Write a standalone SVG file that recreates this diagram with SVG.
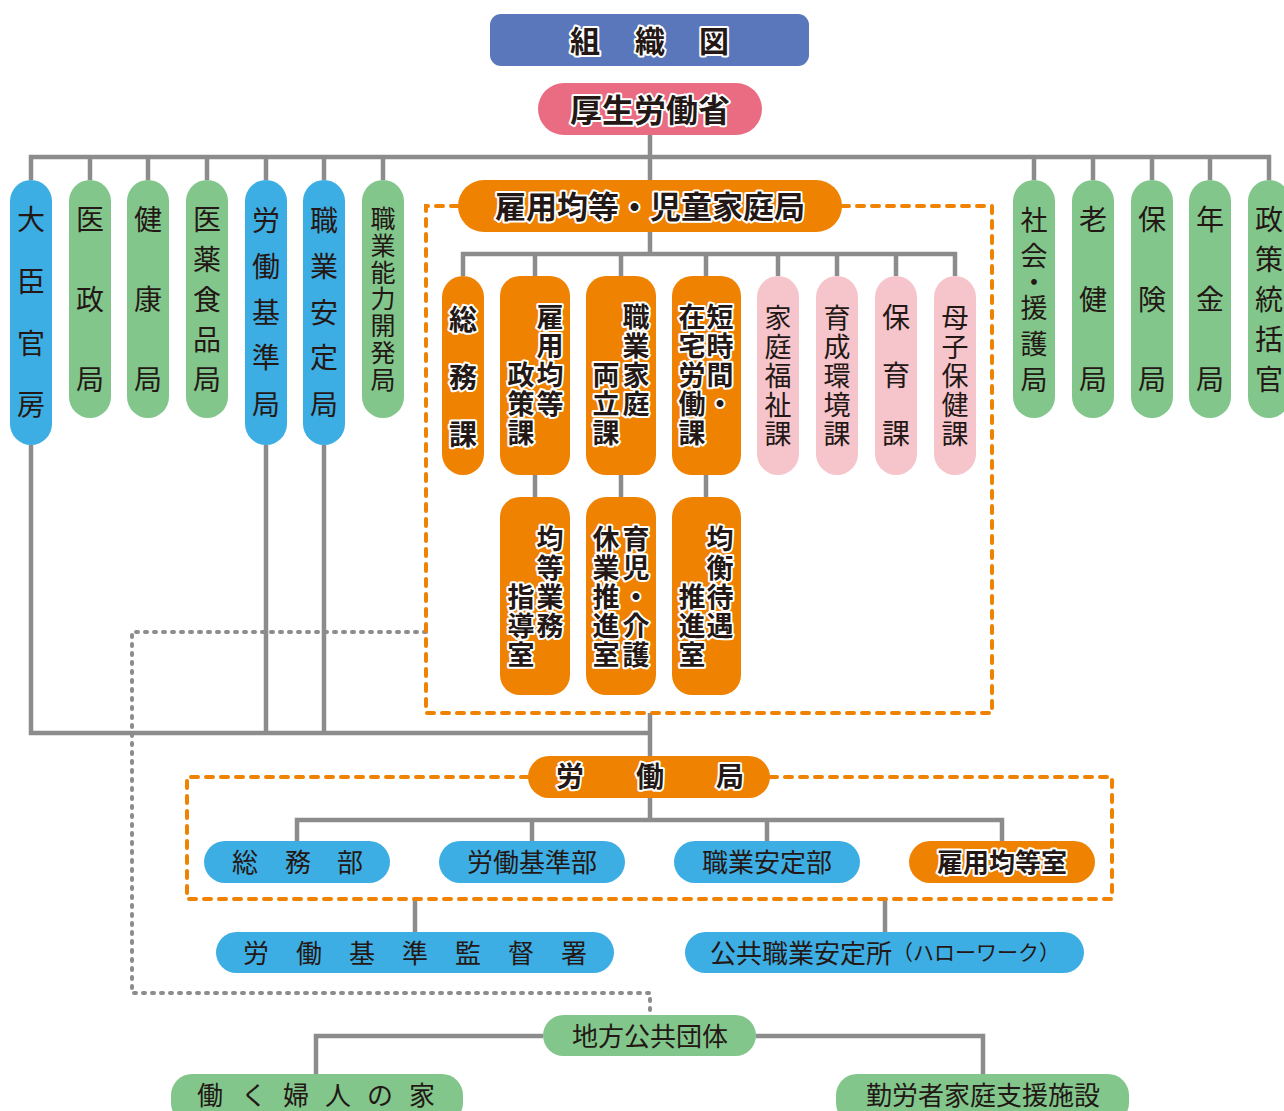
<svg xmlns="http://www.w3.org/2000/svg" width="1284" height="1111" viewBox="0 0 1284 1111">
<style>
.ln{stroke:#8c8c8c;stroke-width:4.5;fill:none}
.dsh{stroke:#ef8200;stroke-width:4;fill:none;stroke-dasharray:7 8;stroke-linecap:round}
.dot{stroke:#8c8c8c;stroke-width:4;fill:none;stroke-dasharray:2 7;stroke-linecap:round}
.bl{fill:#3daee3}
.gr{fill:#82c68c}
.or{fill:#ef8200}
.pk{fill:#f6c5cc}
text{font-family:"Noto Sans CJK JP","Noto Sans CJK SC",sans-serif;fill:#231815;text-anchor:middle;dominant-baseline:central;transform:translate(0px,-2px)}
.v{font-size:28px}
.c{font-size:27px}
.s{font-size:26px}
.n{font-size:25px}
.o{stroke:#fff;stroke-width:4;paint-order:stroke;stroke-linejoin:round;font-weight:bold}
</style>
<rect width="1284" height="1111" fill="#fff"/>

<g id="connectors">
<path class="ln" d="M650 135V180M31 180V157H1269V180M90 157V180M148 157V180M207 157V180M266 157V180M324 157V180M383 157V180M1034 157V180M1093 157V180M1152 157V180M1210 157V180"/>
<path class="ln" d="M650 232V254M463 276V254H955V276M535 254V276M621 254V276M706 254V276M778 254V276M837 254V276M896 254V276"/>
<path class="ln" d="M535 475V497M621 475V497M706 475V497"/>
<path class="ln" d="M31 445V733H650M266 445V733M324 445V733M650 713V757"/>
<path class="ln" d="M650 798V820M297 841V820H1002V841M532 820V841M767 820V841"/>
<path class="ln" d="M415 899V932M885 899V932"/>
<path class="ln" d="M543 1036H316V1074M756 1036H983V1074"/>
<path class="dot" d="M426 632H132V993H650V1015"/>
<path class="dsh" d="M458 206H426V713H992V206H842"/>
<path class="dsh" d="M528 777H187V899H1112V777H770"/>
</g>

<g id="title"><rect x="490" y="14" width="319" height="52" rx="11" fill="#5a77bb"/>
<text class="o" font-size="30"><tspan x="585" y="41">組</tspan><tspan x="650" y="41">織</tspan><tspan x="714" y="41">図</tspan></text></g>

<g id="mhlw"><rect x="538" y="83" width="224" height="52" rx="26" fill="#ea6c82"/>
<text class="o" x="650" y="110" font-size="32" font-weight="900">厚生労働省</text></g>

<g id="n-daijin"><rect class="bl" x="10" y="180" width="42" height="265" rx="21"/>
<text class="v"><tspan x="31" y="220">大</tspan><tspan x="31" y="282">臣</tspan><tspan x="31" y="344">官</tspan><tspan x="31" y="405">房</tspan></text></g>
<g id="n-isei"><rect class="gr" x="69" y="180" width="42" height="238" rx="21"/>
<text class="v"><tspan x="90" y="220">医</tspan><tspan x="90" y="300">政</tspan><tspan x="90" y="380">局</tspan></text></g>
<g id="n-kenko"><rect class="gr" x="127" y="180" width="42" height="238" rx="21"/>
<text class="v"><tspan x="148" y="220">健</tspan><tspan x="148" y="300">康</tspan><tspan x="148" y="380">局</tspan></text></g>
<g id="n-iyaku"><rect class="gr" x="186" y="180" width="42" height="238" rx="21"/>
<text class="v"><tspan x="207" y="220">医</tspan><tspan x="207" y="260">薬</tspan><tspan x="207" y="300">食</tspan><tspan x="207" y="340">品</tspan><tspan x="207" y="380">局</tspan></text></g>
<g id="n-rodokijun"><rect class="bl" x="245" y="180" width="42" height="265" rx="21"/>
<text class="v"><tspan x="266" y="221">労</tspan><tspan x="266" y="267">働</tspan><tspan x="266" y="313">基</tspan><tspan x="266" y="358">準</tspan><tspan x="266" y="405">局</tspan></text></g>
<g id="n-shokugyoantei"><rect class="bl" x="303" y="180" width="42" height="265" rx="21"/>
<text class="v"><tspan x="324" y="221">職</tspan><tspan x="324" y="267">業</tspan><tspan x="324" y="313">安</tspan><tspan x="324" y="358">定</tspan><tspan x="324" y="405">局</tspan></text></g>
<g id="n-noryoku"><rect class="gr" x="362" y="180" width="42" height="238" rx="21"/>
<text class="n"><tspan x="383" y="219">職</tspan><tspan x="383" y="246">業</tspan><tspan x="383" y="273">能</tspan><tspan x="383" y="299">力</tspan><tspan x="383" y="326">開</tspan><tspan x="383" y="353">発</tspan><tspan x="383" y="380">局</tspan></text></g>

<g id="n-shakai"><rect class="gr" x="1013" y="180" width="42" height="238" rx="21"/>
<text class="c"><tspan x="1034" y="220">社</tspan><tspan x="1034" y="256">会</tspan><tspan x="1034" y="282">・</tspan><tspan x="1034" y="308">援</tspan><tspan x="1034" y="344">護</tspan><tspan x="1034" y="380">局</tspan></text></g>
<g id="n-roken"><rect class="gr" x="1072" y="180" width="42" height="238" rx="21"/>
<text class="v"><tspan x="1093" y="220">老</tspan><tspan x="1093" y="300">健</tspan><tspan x="1093" y="380">局</tspan></text></g>
<g id="n-hoken"><rect class="gr" x="1131" y="180" width="42" height="238" rx="21"/>
<text class="v"><tspan x="1152" y="220">保</tspan><tspan x="1152" y="300">険</tspan><tspan x="1152" y="380">局</tspan></text></g>
<g id="n-nenkin"><rect class="gr" x="1189" y="180" width="42" height="238" rx="21"/>
<text class="v"><tspan x="1210" y="220">年</tspan><tspan x="1210" y="300">金</tspan><tspan x="1210" y="380">局</tspan></text></g>
<g id="n-seisaku"><rect class="gr" x="1248" y="180" width="42" height="238" rx="21"/>
<text class="v"><tspan x="1269" y="220">政</tspan><tspan x="1269" y="260">策</tspan><tspan x="1269" y="300">統</tspan><tspan x="1269" y="340">括</tspan><tspan x="1269" y="380">官</tspan></text></g>

<g id="n-koyokinto"><rect class="or" x="458" y="180" width="384" height="52" rx="26"/>
<text class="o" x="650" y="206" font-size="31" font-weight="500">雇用均等・児童家庭局</text></g>

<g id="n-somuka"><rect class="or" x="442" y="276" width="42" height="199" rx="21"/>
<text class="v o"><tspan x="463" y="320">総</tspan><tspan x="463" y="378">務</tspan><tspan x="463" y="435">課</tspan></text></g>
<g id="n-koyoseisaku"><rect class="or" x="500" y="276" width="70" height="199" rx="20"/>
<text class="c o"><tspan x="550" y="317">雇</tspan><tspan x="550" y="346">用</tspan><tspan x="550" y="375">均</tspan><tspan x="550" y="404">等</tspan><tspan x="521" y="375">政</tspan><tspan x="521" y="404">策</tspan><tspan x="521" y="433">課</tspan></text></g>
<g id="n-ryoritsu"><rect class="or" x="586" y="276" width="70" height="199" rx="20"/>
<text class="c o"><tspan x="636" y="317">職</tspan><tspan x="636" y="346">業</tspan><tspan x="636" y="375">家</tspan><tspan x="636" y="404">庭</tspan><tspan x="606" y="375">両</tspan><tspan x="606" y="404">立</tspan><tspan x="606" y="433">課</tspan></text></g>
<g id="n-tanjikan"><rect class="or" x="672" y="276" width="69" height="199" rx="20"/>
<text class="c o"><tspan x="720" y="317">短</tspan><tspan x="720" y="346">時</tspan><tspan x="720" y="375">間</tspan><tspan x="720" y="404">・</tspan><tspan x="692" y="317">在</tspan><tspan x="692" y="346">宅</tspan><tspan x="692" y="375">労</tspan><tspan x="692" y="404">働</tspan><tspan x="692" y="433">課</tspan></text></g>
<g id="n-kateifukushi"><rect class="pk" x="757" y="276" width="42" height="199" rx="21"/>
<text class="c"><tspan x="778" y="318">家</tspan><tspan x="778" y="347">庭</tspan><tspan x="778" y="376">福</tspan><tspan x="778" y="405">祉</tspan><tspan x="778" y="434">課</tspan></text></g>
<g id="n-ikusei"><rect class="pk" x="816" y="276" width="42" height="199" rx="21"/>
<text class="c"><tspan x="837" y="318">育</tspan><tspan x="837" y="347">成</tspan><tspan x="837" y="376">環</tspan><tspan x="837" y="405">境</tspan><tspan x="837" y="434">課</tspan></text></g>
<g id="n-hoiku"><rect class="pk" x="875" y="276" width="42" height="199" rx="21"/>
<text class="v"><tspan x="896" y="318">保</tspan><tspan x="896" y="376">育</tspan><tspan x="896" y="434">課</tspan></text></g>
<g id="n-boshi"><rect class="pk" x="934" y="276" width="42" height="199" rx="21"/>
<text class="c"><tspan x="955" y="318">母</tspan><tspan x="955" y="347">子</tspan><tspan x="955" y="376">保</tspan><tspan x="955" y="405">健</tspan><tspan x="955" y="434">課</tspan></text></g>

<g id="n-kintogyomu"><rect class="or" x="500" y="497" width="70" height="198" rx="20"/>
<text class="c o"><tspan x="550" y="539">均</tspan><tspan x="550" y="568">等</tspan><tspan x="550" y="597">業</tspan><tspan x="550" y="626">務</tspan><tspan x="521" y="597">指</tspan><tspan x="521" y="626">導</tspan><tspan x="521" y="655">室</tspan></text></g>
<g id="n-ikuji"><rect class="or" x="586" y="497" width="70" height="198" rx="20"/>
<text class="c o"><tspan x="636" y="539">育</tspan><tspan x="636" y="568">児</tspan><tspan x="636" y="597">・</tspan><tspan x="636" y="626">介</tspan><tspan x="636" y="655">護</tspan><tspan x="606" y="539">休</tspan><tspan x="606" y="568">業</tspan><tspan x="606" y="597">推</tspan><tspan x="606" y="626">進</tspan><tspan x="606" y="655">室</tspan></text></g>
<g id="n-kinko"><rect class="or" x="672" y="497" width="69" height="198" rx="20"/>
<text class="c o"><tspan x="720" y="539">均</tspan><tspan x="720" y="568">衡</tspan><tspan x="720" y="597">待</tspan><tspan x="720" y="626">遇</tspan><tspan x="692" y="597">推</tspan><tspan x="692" y="626">進</tspan><tspan x="692" y="655">室</tspan></text></g>

<g id="n-rodokyoku"><rect class="or" x="528" y="756" width="242" height="42" rx="21"/>
<text class="o" font-size="28" font-weight="500"><tspan x="570" y="777">労</tspan><tspan x="650" y="777">働</tspan><tspan x="730" y="777">局</tspan></text></g>

<g id="n-somubu"><rect class="bl" x="204" y="841" width="186" height="42" rx="21"/>
<text class="s"><tspan x="245" y="862">総</tspan><tspan x="298" y="862">務</tspan><tspan x="350" y="862">部</tspan></text></g>
<g id="n-rodokijunbu"><rect class="bl" x="439" y="841" width="186" height="42" rx="21"/>
<text class="s" x="532" y="862">労働基準部</text></g>
<g id="n-shokugyoanteibu"><rect class="bl" x="674" y="841" width="186" height="42" rx="21"/>
<text class="s" x="767" y="862">職業安定部</text></g>
<g id="n-koyokintoshitsu"><rect class="or" x="909" y="841" width="186" height="42" rx="21"/>
<text class="s o" x="1002" y="862" font-weight="500">雇用均等室</text></g>

<g id="n-kantokusho"><rect class="bl" x="216" y="932" width="398" height="41" rx="20.5"/>
<text class="s"><tspan x="256" y="953">労</tspan><tspan x="309" y="953">働</tspan><tspan x="362" y="953">基</tspan><tspan x="415" y="953">準</tspan><tspan x="468" y="953">監</tspan><tspan x="521" y="953">督</tspan><tspan x="574" y="953">署</tspan></text></g>
<g id="n-hellowork"><rect class="bl" x="685" y="932" width="399" height="41" rx="20.5"/>
<text class="s" x="885" y="953">公共職業安定所<tspan font-size="21">（ハローワーク）</tspan></text></g>

<g id="n-chiho"><rect class="gr" x="543" y="1015" width="213" height="41" rx="20.5"/>
<text class="s" x="650" y="1036">地方公共団体</text></g>
<g id="n-fujin"><rect class="gr" x="171" y="1074" width="292" height="50" rx="21"/>
<text class="s"><tspan x="210" y="1095">働</tspan><tspan x="254" y="1095">く</tspan><tspan x="296" y="1095">婦</tspan><tspan x="338" y="1095">人</tspan><tspan x="380" y="1095">の</tspan><tspan x="422" y="1095">家</tspan></text></g>
<g id="n-kinrosha"><rect class="gr" x="836" y="1074" width="293" height="50" rx="21"/>
<text class="s" x="983" y="1095">勤労者家庭支援施設</text></g>
</svg>
